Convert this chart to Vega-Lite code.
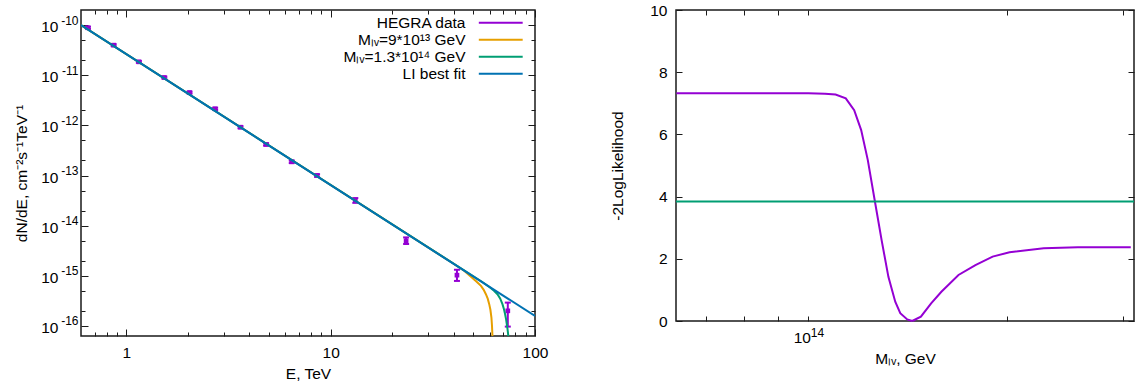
{
  "$schema": "https://vega.github.io/schema/vega-lite/v6.json",
  "background": "white",
  "padding": {"left": 14, "top": 2, "right": 0, "bottom": 0},
  "bounds": "flush",
  "spacing": 141,
  "resolve": {"scale": {"color": "independent"}, "legend": {"color": "independent"}},
  "datasets": {
    "hegra": [
      {"E": 0.649, "F": 8.83e-11, "lo": 8.4e-11, "hi": 9.3e-11, "s": "HEGRA data"},
      {"E": 0.867, "F": 3.98e-11, "lo": 3.8e-11, "hi": 4.17e-11, "s": "HEGRA data"},
      {"E": 1.152, "F": 1.85e-11, "lo": 1.77e-11, "hi": 1.93e-11, "s": "HEGRA data"},
      {"E": 1.534, "F": 9.0e-12, "lo": 8.6e-12, "hi": 9.4e-12, "s": "HEGRA data"},
      {"E": 2.039, "F": 4.51e-12, "lo": 4.3e-12, "hi": 4.72e-12, "s": "HEGRA data"},
      {"E": 2.72, "F": 2.14e-12, "lo": 2.03e-12, "hi": 2.25e-12, "s": "HEGRA data"},
      {"E": 3.62, "F": 9.2e-13, "lo": 8.75e-13, "hi": 9.65e-13, "s": "HEGRA data"},
      {"E": 4.83, "F": 4.17e-13, "lo": 3.95e-13, "hi": 4.4e-13, "s": "HEGRA data"},
      {"E": 6.45, "F": 1.88e-13, "lo": 1.77e-13, "hi": 1.99e-13, "s": "HEGRA data"},
      {"E": 8.58, "F": 1.0e-13, "lo": 9.4e-14, "hi": 1.06e-13, "s": "HEGRA data"},
      {"E": 13.2, "F": 3.19e-14, "lo": 2.85e-14, "hi": 3.55e-14, "s": "HEGRA data"},
      {"E": 23.4, "F": 5.0e-15, "lo": 4.31e-15, "hi": 5.83e-15, "s": "HEGRA data"},
      {"E": 41.5, "F": 1.03e-15, "lo": 7.9e-16, "hi": 1.32e-15, "s": "HEGRA data"},
      {"E": 73.6, "F": 2.0e-16, "lo": 9.7e-17, "hi": 2.92e-16, "s": "HEGRA data"}
    ],
    "curves": [
      {"E": 0.6, "F": 1.0e-10, "s": "Mₗᵥ=9*10¹³ GeV"},
      {"E": 40, "F": 1.74e-15, "s": "Mₗᵥ=9*10¹³ GeV"},
      {"E": 45, "F": 1.26e-15, "s": "Mₗᵥ=9*10¹³ GeV"},
      {"E": 48.6, "F": 9.6e-16, "s": "Mₗᵥ=9*10¹³ GeV"},
      {"E": 51.5, "F": 7.8e-16, "s": "Mₗᵥ=9*10¹³ GeV"},
      {"E": 54.4, "F": 6.3e-16, "s": "Mₗᵥ=9*10¹³ GeV"},
      {"E": 56, "F": 5.3e-16, "s": "Mₗᵥ=9*10¹³ GeV"},
      {"E": 57.5, "F": 4.3e-16, "s": "Mₗᵥ=9*10¹³ GeV"},
      {"E": 58.7, "F": 3.5e-16, "s": "Mₗᵥ=9*10¹³ GeV"},
      {"E": 59.7, "F": 2.72e-16, "s": "Mₗᵥ=9*10¹³ GeV"},
      {"E": 60.5, "F": 2.1e-16, "s": "Mₗᵥ=9*10¹³ GeV"},
      {"E": 61.2, "F": 1.47e-16, "s": "Mₗᵥ=9*10¹³ GeV"},
      {"E": 61.6, "F": 1.0e-16, "s": "Mₗᵥ=9*10¹³ GeV"},
      {"E": 61.9, "F": 6.3e-17, "s": "Mₗᵥ=9*10¹³ GeV"},
      {"E": 62.1, "F": 4.0e-17, "s": "Mₗᵥ=9*10¹³ GeV"},
      {"E": 0.6, "F": 1.0e-10, "s": "Mₗᵥ=1.3*10¹⁴ GeV"},
      {"E": 55, "F": 7.6e-16, "s": "Mₗᵥ=1.3*10¹⁴ GeV"},
      {"E": 60, "F": 5.9e-16, "s": "Mₗᵥ=1.3*10¹⁴ GeV"},
      {"E": 63, "F": 5.05e-16, "s": "Mₗᵥ=1.3*10¹⁴ GeV"},
      {"E": 65.5, "F": 4.3e-16, "s": "Mₗᵥ=1.3*10¹⁴ GeV"},
      {"E": 67.5, "F": 3.55e-16, "s": "Mₗᵥ=1.3*10¹⁴ GeV"},
      {"E": 69.3, "F": 2.72e-16, "s": "Mₗᵥ=1.3*10¹⁴ GeV"},
      {"E": 70.5, "F": 2.15e-16, "s": "Mₗᵥ=1.3*10¹⁴ GeV"},
      {"E": 71.4, "F": 1.71e-16, "s": "Mₗᵥ=1.3*10¹⁴ GeV"},
      {"E": 72.2, "F": 1.35e-16, "s": "Mₗᵥ=1.3*10¹⁴ GeV"},
      {"E": 72.8, "F": 1.08e-16, "s": "Mₗᵥ=1.3*10¹⁴ GeV"},
      {"E": 73.4, "F": 8.5e-17, "s": "Mₗᵥ=1.3*10¹⁴ GeV"},
      {"E": 73.9, "F": 6.8e-17, "s": "Mₗᵥ=1.3*10¹⁴ GeV"},
      {"E": 74.4, "F": 4.5e-17, "s": "Mₗᵥ=1.3*10¹⁴ GeV"},
      {"E": 0.6, "F": 1.0e-10, "s": "LI best fit"},
      {"E": 100, "F": 1.58e-16, "s": "LI best fit"}
    ],
    "likeA": [
      {"M": 63100000000000, "L": 7.32},
      {"M": 80000000000000, "L": 7.32},
      {"M": 100000000000000, "L": 7.32},
      {"M": 106000000000000, "L": 7.31},
      {"M": 110000000000000, "L": 7.28},
      {"M": 114000000000000, "L": 7.16},
      {"M": 117400000000000, "L": 6.78},
      {"M": 120300000000000, "L": 6.14},
      {"M": 123100000000000, "L": 5.18},
      {"M": 126100000000000, "L": 3.89},
      {"M": 129200000000000, "L": 2.6},
      {"M": 132300000000000, "L": 1.42},
      {"M": 135500000000000, "L": 0.62},
      {"M": 137900000000000, "L": 0.25},
      {"M": 141300000000000, "L": 0.05},
      {"M": 143800000000000, "L": 0.0}
    ],
    "likeB": [
      {"M": 143800000000000, "L": 0.0},
      {"M": 148200000000000, "L": 0.14},
      {"M": 153600000000000, "L": 0.57},
      {"M": 159200000000000, "L": 0.94},
      {"M": 169000000000000, "L": 1.48},
      {"M": 179300000000000, "L": 1.8},
      {"M": 190400000000000, "L": 2.07},
      {"M": 202000000000000, "L": 2.21},
      {"M": 227600000000000, "L": 2.34},
      {"M": 256500000000000, "L": 2.37},
      {"M": 308500000000000, "L": 2.37}
    ],
    "limit": [
      {"L": 3.84}
    ]
  },
  "hconcat": [
    {
      "width": 454,
      "height": 326,
      "resolve": {"axis": {"x": "independent", "y": "independent"}},
      "layer": [
        {
          "data": {"name": "hegra"},
          "mark": {"type": "rule", "strokeWidth": 2},
          "encoding": {
            "x": {"field": "E", "type": "quantitative",
              "scale": {"type": "log", "domain": [0.6, 100], "nice": false},
              "axis": {"orient": "bottom", "values": [1, 10, 100], "format": "d", "tickSize": -7, "labelPadding": 16, "title": "E, TeV", "titlePadding": 6}},
            "y": {"field": "lo", "type": "quantitative",
              "scale": {"type": "log", "domain": [6.3e-17, 2e-10], "nice": false},
              "axis": {"orient": "left", "values": [1e-10, 1e-11, 1e-12, 1e-13, 1e-14, 1e-15, 1e-16], "tickSize": -7, "labelExpr": "'10'", "labelPadding": 30, "labelOffset": 1.5, "title": "dN/dE,  cm⁻²s⁻¹TeV⁻¹", "titlePadding": 11}},
            "y2": {"field": "hi"},
            "color": {"field": "s", "type": "nominal",
              "scale": {"domain": ["HEGRA data", "Mₗᵥ=9*10¹³ GeV", "Mₗᵥ=1.3*10¹⁴ GeV", "LI best fit"], "range": ["#9400d3", "#e69f00", "#009e73", "#0072b2"]},
              "legend": {"orient": "none", "legendX": 412, "legendY": 5, "title": null, "symbolType": "M-5,0H5", "symbolSize": 77, "symbolStrokeWidth": 2, "symbolOffset": 0, "labelAlign": "right", "labelOffset": -43, "labelFontSize": 15.5, "rowPadding": -2.2, "padding": 0}}
          }
        },
        {
          "data": {"name": "hegra"},
          "mark": {"type": "tick", "orient": "horizontal", "size": 6, "thickness": 2, "color": "#9400d3", "opacity": 1},
          "encoding": {
            "x": {"field": "E", "type": "quantitative",
              "axis": {"orient": "bottom", "values": [0.7, 0.8, 0.9, 2, 3, 4, 5, 6, 7, 8, 9, 20, 30, 40, 50, 60, 70, 80, 90], "tickSize": -4, "labels": false, "title": null}},
            "y": {"field": "lo", "type": "quantitative",
              "axis": {"orient": "left", "values": [1e-10, 1e-11, 1e-12, 1e-13, 1e-14, 1e-15, 1e-16], "ticks": false, "labelExpr": "'-' + round(-log(datum.value)/LN10)", "labelFontSize": 12, "labelPadding": 3, "labelOffset": -5, "title": null}}
          }
        },
        {
          "data": {"name": "hegra"},
          "mark": {"type": "tick", "orient": "horizontal", "size": 6, "thickness": 2, "color": "#9400d3", "opacity": 1},
          "encoding": {
            "x": {"field": "E", "type": "quantitative",
              "axis": {"orient": "top", "values": [1, 10, 100], "tickSize": -7, "labels": false, "title": null}},
            "y": {"field": "hi", "type": "quantitative",
              "axis": {"orient": "left", "values": [2e-16, 5e-16, 2e-15, 5e-15, 2e-14, 5e-14, 2e-13, 5e-13, 2e-12, 5e-12, 2e-11, 5e-11], "tickSize": -4, "labels": false, "title": null}}
          }
        },
        {
          "data": {"name": "hegra"},
          "mark": {"type": "square", "size": 22, "filled": true, "opacity": 1, "color": "#9400d3"},
          "encoding": {
            "x": {"field": "E", "type": "quantitative",
              "axis": {"orient": "top", "values": [0.7, 0.8, 0.9, 2, 3, 4, 5, 6, 7, 8, 9, 20, 30, 40, 50, 60, 70, 80, 90], "tickSize": -4, "labels": false, "title": null}},
            "y": {"field": "F", "type": "quantitative",
              "axis": {"orient": "right", "values": [1e-10, 1e-11, 1e-12, 1e-13, 1e-14, 1e-15, 1e-16], "tickSize": -7, "labels": false, "title": null}}
          }
        },
        {
          "data": {"name": "curves"},
          "mark": {"type": "line", "strokeWidth": 2, "clip": true},
          "encoding": {
            "x": {"field": "E", "type": "quantitative", "axis": null},
            "y": {"field": "F", "type": "quantitative",
              "axis": {"orient": "right", "values": [2e-16, 5e-16, 2e-15, 5e-15, 2e-14, 5e-14, 2e-13, 5e-13, 2e-12, 5e-12, 2e-11, 5e-11], "tickSize": -4, "labels": false, "title": null}},
            "color": {"field": "s", "type": "nominal"}
          }
        }
      ]
    },
    {
      "width": 458,
      "height": 311,
      "resolve": {"axis": {"x": "independent", "y": "independent"}},
      "layer": [
        {
          "data": {"name": "likeA"},
          "mark": {"type": "line", "strokeWidth": 2, "color": "#9400d3"},
          "encoding": {
            "x": {"field": "M", "type": "quantitative",
              "scale": {"type": "log", "domain": [63000000000000, 312000000000000], "nice": false},
              "axis": {"orient": "bottom", "values": [70000000000000, 80000000000000, 90000000000000, 100000000000000, 200000000000000, 300000000000000], "tickSize": -5, "labelExpr": "datum.value == 100000000000000 ? '10' : ''", "labelOffset": -6.5, "labelPadding": 14, "title": "Mₗᵥ, GeV", "titlePadding": 6}},
            "y": {"field": "L", "type": "quantitative",
              "scale": {"domain": [0, 10], "nice": false},
              "axis": {"orient": "left", "values": [0, 2, 4, 6, 8, 10], "tickSize": -6, "labelPadding": 15, "title": "-2LogLikelihood", "titlePadding": 24}}
          }
        },
        {
          "data": {"name": "likeB"},
          "mark": {"type": "line", "strokeWidth": 2, "color": "#9400d3"},
          "encoding": {
            "x": {"field": "M", "type": "quantitative",
              "axis": {"orient": "bottom", "values": [100000000000000], "ticks": false, "labelExpr": "'14'", "labelFontSize": 12, "labelOffset": 8.7, "labelPadding": 6, "title": null}},
            "y": {"field": "L", "type": "quantitative",
              "axis": {"orient": "right", "values": [0, 2, 4, 6, 8, 10], "tickSize": -6, "labels": false, "title": null}}
          }
        },
        {
          "data": {"name": "limit"},
          "mark": {"type": "rule", "strokeWidth": 2, "color": "#009e73"},
          "encoding": {
            "y": {"field": "L", "type": "quantitative", "axis": null}
          }
        },
        {
          "data": {"name": "likeB"},
          "mark": {"type": "line", "strokeWidth": 0, "opacity": 0},
          "encoding": {
            "x": {"field": "M", "type": "quantitative",
              "axis": {"orient": "top", "values": [70000000000000, 80000000000000, 90000000000000, 100000000000000, 200000000000000, 300000000000000], "tickSize": -5, "labels": false, "title": null}},
            "y": {"field": "L", "type": "quantitative", "axis": null}
          }
        }
      ]
    }
  ],
  "config": {
    "font": "Liberation Sans",
    "view": {"stroke": "#1a1a1a", "strokeWidth": 1.5},
    "axis": {"grid": false, "domain": false, "labelFont": "Liberation Sans", "labelFontSize": 15.5, "labelColor": "#000", "labelOverlap": false, "labelFlush": false, "labelBound": false, "titleFont": "Liberation Sans", "titleFontSize": 15.5, "titleFontWeight": "normal", "titleColor": "#000", "tickColor": "#1a1a1a", "tickWidth": 1},
    "legend": {"labelFont": "Liberation Sans", "labelColor": "#000"}
  }
}
